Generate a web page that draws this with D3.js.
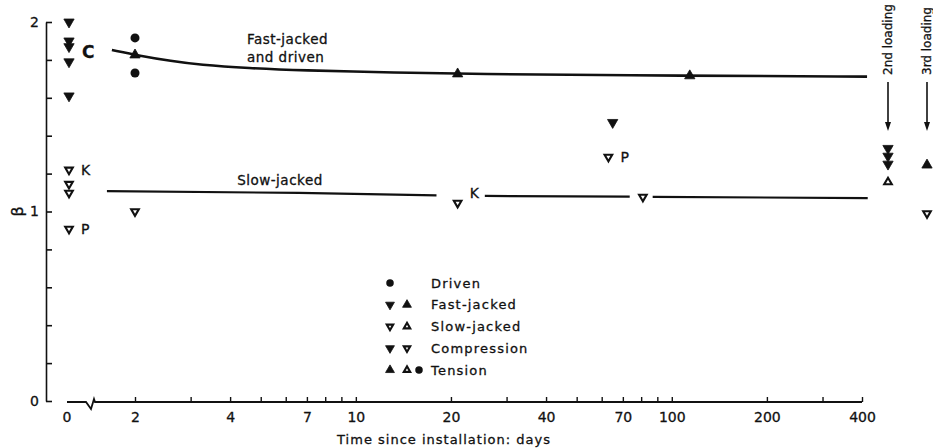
<!DOCTYPE html>
<html>
<head>
<meta charset="utf-8">
<script src="https://cdn.jsdelivr.net/npm/d3@7"></script>
<style>
  html, body { margin: 0; padding: 0; background: #fff; }
  svg { display: block; }
  text { font-family: "DejaVu Sans", "Liberation Sans", Arial, sans-serif; fill: #111; stroke: #111; stroke-width: 0.3px; }
</style>
</head>
<body>
<svg id="chart" width="933" height="448"></svg>
<script>
// ---------------- DATA ----------------
const xTickValues = [2,3,4,5,6,7,8,9,10,20,30,40,50,60,70,80,90,100,200,300,400];
const xTickLabels = [2,4,7,10,20,40,70,100,200,400];
const yTickValues = [0,0.2,0.4,0.6,0.8,1,1.2,1.4,1.6,1.8,2];
const yTickLabels = [0,1,2];

// Fast-jacked, compression (filled down triangles)
const fastCompDays = [0, 0, 0, 0, 0, 65];
const fastCompBeta = [2.0, 1.90, 1.87, 1.79, 1.61, 1.47];
// Fast-jacked, tension (filled up triangles)
const fastTensDays = [2, 21, 114];
const fastTensBeta = [1.826, 1.726, 1.716];
// Slow-jacked, compression (open down triangles)
const slowCompDays = [0, 0, 0, 0, 2, 21, 63, 81];
const slowCompBeta = [1.22, 1.145, 1.098, 0.908, 1.0, 1.045, 1.288, 1.077];
// Driven, tension (filled circles)
const drivenDays = [2, 2];
const drivenBeta = [1.916, 1.731];

// Re-loadings (placed beyond the time axis)
const loadingStages = ["2nd loading", "3rd loading"];
const loadFastCompStage = ["2nd loading", "2nd loading", "2nd loading"];
const loadFastCompBeta  = [1.333, 1.292, 1.25];
const loadSlowTensStage = ["2nd loading"];
const loadSlowTensBeta  = [1.155];
const loadFastTensStage = ["3rd loading"];
const loadFastTensBeta  = [1.245];
const loadSlowCompStage = ["3rd loading"];
const loadSlowCompBeta  = [0.99];

// Trend lines
const fastLineDays = [1.69, 2.07, 2.6, 3.2, 4.6, 6.6, 14, 21, 114, 415];
const fastLineBeta = [1.852, 1.822, 1.794, 1.774, 1.756, 1.745, 1.733, 1.726, 1.716, 1.712];
const slowLineDays = [1.63, 6.6, 18, null, 25.6, 73.6, null, 87, 417];
const slowLineBeta = [1.108, 1.098, 1.085, null, 1.082, 1.079, null, 1.077, 1.071];

// Text annotations
const letterLabels = ["C", "K", "P", "K", "P"];
const letterDays   = [0, 0, 0, 21, 63];
const letterBeta   = [1.842, 1.22, 0.908, 1.10, 1.29];
const curveLabelText = ["Fast-jacked", "and driven", "Slow-jacked"];
const curveLabelDays = [4.52, 4.52, 4.21];
const curveLabelBeta = [1.884, 1.79, 1.14];

const legendLabels = ["Driven", "Fast-jacked", "Slow-jacked", "Compression", "Tension"];
const legendSymbols = [
  ["circle"],
  ["fillDown", "fillUp"],
  ["openDown", "openUp"],
  ["fillDown", "openDown"],
  ["fillUp", "openUp", "circle"]
];

// ---------------- LAYOUT ----------------
const svg = d3.select("#chart");
const axisY0 = 402;
const axisX0 = 46;
const xZero = 69;

const xLog = d3.scaleLog().domain([2, 400]).range([135, 862]);
const xPos = d => d === 0 ? xZero : xLog(d);
const y = d3.scaleLinear().domain([0, 2]).range([401, 22]);
const xStage = d3.scalePoint().domain(loadingStages).range([888, 927]);

// ---------------- AXES ----------------
const yAxis = d3.axisLeft(y)
  .tickValues(yTickValues)
  .tickSize(-6)
  .tickSizeOuter(0)
  .tickPadding(7)
  .tickFormat(d => yTickLabels.includes(d) ? d3.format("d")(d) : "");
const gy = svg.append("g").attr("transform", `translate(${axisX0},0)`).call(yAxis);
gy.select(".domain").attr("stroke", "#111").attr("stroke-width", 1.6);
gy.selectAll(".tick line").attr("stroke", "#111").attr("stroke-width", 1.6);
gy.selectAll(".tick text").attr("font-size", 14).attr("font-family", "DejaVu Sans, sans-serif").attr("fill", "#111");

const xAxis = d3.axisBottom(xLog)
  .tickValues(xTickValues)
  .tickSize(-5)
  .tickSizeOuter(0)
  .tickPadding(10)
  .tickFormat(d => xTickLabels.includes(d) ? d3.format("d")(d) : "");
const gx = svg.append("g").attr("transform", `translate(0,${axisY0})`).call(xAxis);
gx.select(".domain").remove();
gx.selectAll(".tick line").attr("stroke", "#111").attr("stroke-width", 1.4);
gx.selectAll(".tick text").attr("font-size", 14).attr("font-family", "DejaVu Sans, sans-serif").attr("fill", "#111");

const breakX = 92;
svg.append("path")
  .attr("d", `M${xZero - 2},${axisY0} L${breakX - 6},${axisY0} L${breakX - 1},${axisY0 + 7} L${breakX + 2},${axisY0 - 3} L${breakX + 3},${axisY0} L${xLog(400)},${axisY0}`)
  .attr("fill", "none").attr("stroke", "#111").attr("stroke-width", 1.8);
svg.append("text").attr("x", xZero - 2).attr("y", axisY0 + 10).attr("dy", "0.71em")
  .attr("text-anchor", "middle").attr("font-size", 14).text("0");

svg.append("text").attr("x", 444).attr("y", 444)
  .attr("text-anchor", "middle").attr("font-size", 13).attr("letter-spacing", "1px")
  .text("Time since installation: days");
svg.append("text").attr("transform", `translate(17,${y(1)}) rotate(-90)`)
  .attr("text-anchor", "middle").attr("dy", "0.35em").attr("font-size", 16)
  .text("β");

// ---------------- LINES ----------------
const line = d3.line()
  .defined(d => d[1] != null)
  .x(d => xLog(d[0])).y(d => y(d[1]))
  .curve(d3.curveBasis);
svg.append("path")
  .datum(fastLineDays.map((d, i) => [d, fastLineBeta[i]]))
  .attr("d", line).attr("fill", "none").attr("stroke", "#111").attr("stroke-width", 2.6);
svg.append("path")
  .datum(slowLineDays.map((d, i) => [d, slowLineBeta[i]]))
  .attr("d", line.curve(d3.curveLinear)).attr("fill", "none").attr("stroke", "#111").attr("stroke-width", 2.2);

// ---------------- MARKERS ----------------
const triBig = d3.symbol().type(d3.symbolTriangle).size(46)();
const triOpen = d3.symbol().type(d3.symbolTriangle).size(25)();
const circ = d3.symbol().type(d3.symbolCircle).size(64)();
const triLeg = d3.symbol().type(d3.symbolTriangle).size(34)();
const triLegOpen = d3.symbol().type(d3.symbolTriangle).size(18)();
const circLeg = d3.symbol().type(d3.symbolCircle).size(44)();

function drawMarker(g, kind, cx, cy, legend) {
  const p = g.append("path").attr("transform", `translate(${cx},${cy})` + (kind.endsWith("Down") ? " rotate(180)" : ""));
  if (kind === "circle") {
    p.attr("d", legend ? circLeg : circ).attr("fill", "#111");
  } else if (kind.startsWith("fill")) {
    p.attr("d", legend ? triLeg : triBig).attr("fill", "#111").attr("stroke", "#111").attr("stroke-width", 0.8);
  } else {
    p.attr("d", legend ? triLegOpen : triOpen).attr("fill", "#fff").attr("stroke", "#111").attr("stroke-width", 2.1);
  }
}
const gm = svg.append("g");
fastCompDays.forEach((d, i) => drawMarker(gm, "fillDown", xPos(d), y(fastCompBeta[i])));
fastTensDays.forEach((d, i) => drawMarker(gm, "fillUp", xPos(d), y(fastTensBeta[i])));
slowCompDays.forEach((d, i) => drawMarker(gm, "openDown", xPos(d), y(slowCompBeta[i])));
drivenDays.forEach((d, i) => drawMarker(gm, "circle", xPos(d), y(drivenBeta[i])));
loadFastCompStage.forEach((s, i) => drawMarker(gm, "fillDown", xStage(s), y(loadFastCompBeta[i])));
loadSlowTensStage.forEach((s, i) => drawMarker(gm, "openUp", xStage(s), y(loadSlowTensBeta[i])));
loadFastTensStage.forEach((s, i) => drawMarker(gm, "fillUp", xStage(s), y(loadFastTensBeta[i])));
loadSlowCompStage.forEach((s, i) => drawMarker(gm, "openDown", xStage(s), y(loadSlowCompBeta[i])));

// ---------------- ANNOTATIONS ----------------
letterLabels.forEach((t, i) => {
  svg.append("text")
    .attr("x", xPos(letterDays[i]) + (t === "C" ? 13 : 12))
    .attr("y", y(letterBeta[i])).attr("dy", "0.36em")
    .attr("font-size", t === "C" ? 17 : 14).attr("font-weight", t === "C" ? "bold" : "normal")
    .text(t);
});
curveLabelText.forEach((t, i) => {
  svg.append("text")
    .attr("x", xLog(curveLabelDays[i])).attr("y", y(curveLabelBeta[i]))
    .attr("font-size", 13.5).attr("letter-spacing", "0.5px")
    .text(t);
});

loadingStages.forEach(s => {
  const cx = xStage(s);
  svg.append("text")
    .attr("transform", `translate(${cx},75) rotate(-90)`)
    .attr("dy", "0.36em").attr("font-size", 12)
    .attr("font-family", "Liberation Sans, Arial, sans-serif")
    .text(s);
  svg.append("line").attr("x1", cx).attr("x2", cx).attr("y1", 82).attr("y2", 124)
    .attr("stroke", "#111").attr("stroke-width", 1.6);
  svg.append("path").attr("d", `M${cx - 3},${122} L${cx + 3},${122} L${cx},${131} Z`).attr("fill", "#111");
});

// ---------------- LEGEND ----------------
const legRowY = d3.scalePoint().domain(legendLabels).range([283, 370]);
const legCol = [390, 407, 419];
legendLabels.forEach((lab, i) => {
  const cy = legRowY(lab);
  legendSymbols[i].forEach((k, j) => drawMarker(svg, k, legCol[j], cy, true));
  svg.append("text").attr("x", 431).attr("y", cy).attr("dy", "0.36em")
    .attr("font-size", 13).attr("letter-spacing", "1.2px").text(lab);
});
</script>
</body>
</html>
